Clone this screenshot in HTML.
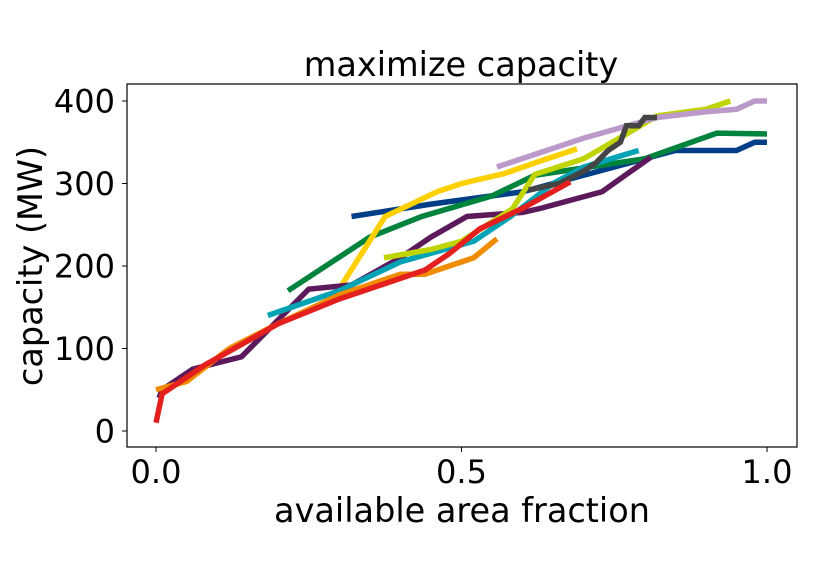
<!DOCTYPE html>
<html><head><meta charset="utf-8"><style>
body{margin:0;background:#fff;}
svg text{font-family:"DejaVu Sans","Liberation Sans",sans-serif;fill:#000;}
</style></head><body>
<svg id="chart" width="839" height="560" viewBox="0 0 839 560" xmlns="http://www.w3.org/2000/svg">
<rect x="0" y="0" width="839" height="560" fill="#fff"/>
<text x="461" y="76" font-size="33.5" text-anchor="middle">maximize capacity</text>
<g id="marks"></g>
<rect x="127" y="84" width="670" height="363" fill="none" stroke="#000" stroke-width="1.2"/>
<g id="axes"></g>
<text x="462" y="522" font-size="33.5" text-anchor="middle">available area fraction</text>
<text transform="translate(42,266) rotate(-90)" font-size="33.5" text-anchor="middle">capacity (MW)</text>
</svg>
<script>
const xTicks=[0,0.5,1];
const xTickLabels=["0.0","0.5","1.0"];
const yTicks=[0,100,200,300,400];
const yTickLabels=["0","100","200","300","400"];
const seriesNames=["navy","green","yellow","purple","teal","lime","lilac","gray","orange","red"];
const seriesColors=["#003f88","#00843d","#ffd000","#5c1a5c","#00a3b4","#bfd400","#bb99c8","#444444","#f08c00","#e3201e"];
const navyX=[0.32,0.45,0.6,0.7,0.8,0.85,0.95,0.98,1.0];
const navyY=[260,275,290,310,330,340,340,350,350];
const greenX=[0.216,0.35,0.435,0.55,0.62,0.8,0.918,1.0];
const greenY=[170,235,260,285,310,330,361,360];
const yellowX=[0.298,0.375,0.46,0.5,0.57,0.62,0.689];
const yellowY=[170,260,290,300,312,325,342];
const purpleX=[0.005,0.01,0.06,0.14,0.25,0.32,0.4,0.45,0.509,0.6,0.63,0.73,0.81];
const purpleY=[40,50,75,90,172,177,210,235,260,265,270,290,332];
const tealX=[0.183,0.3,0.4,0.52,0.58,0.65,0.7,0.79];
const tealY=[140,170,205,230,260,300,320,340];
const limeX=[0.373,0.45,0.5,0.583,0.62,0.7,0.77,0.82,0.9,0.94];
const limeY=[210,220,230,269,311,330,360,382,390,400];
const lilacX=[0.558,0.7,0.82,0.9,0.95,0.98,1.0];
const lilacY=[320,355,380,387,390,400,400];
const grayX=[0.61,0.66,0.7,0.72,0.74,0.76,0.77,0.79,0.8,0.82];
const grayY=[292,300,315,325,340,350,370,370,380,380];
const orangeX=[0.0,0.05,0.12,0.2,0.3,0.4,0.44,0.48,0.52,0.558];
const orangeY=[50,60,100,130,165,190,190,200,210,233];
const redX=[0.0,0.01,0.08,0.2,0.3,0.38,0.44,0.48,0.53,0.6,0.678];
const redY=[10,45,80,130,160,180,195,215,245,270,302];
const allX=[navyX,greenX,yellowX,purpleX,tealX,limeX,lilacX,grayX,orangeX,redX];
const allY=[navyY,greenY,yellowY,purpleY,tealY,limeY,lilacY,grayY,orangeY,redY];
const NS="http://www.w3.org/2000/svg";
function sx(v){return 156+v*611;}
function sy(v){return 431-v*0.825;}
const marks=document.getElementById('marks');
allX.forEach((xs,i)=>{
  const p=document.createElementNS(NS,'polyline');
  p.setAttribute('points',xs.map((x,j)=>sx(x)+','+sy(allY[i][j])).join(' '));
  p.setAttribute('fill','none');
  p.setAttribute('stroke',seriesColors[i]);
  p.setAttribute('stroke-width','5.5');
  
  
  marks.appendChild(p);
});
const axes=document.getElementById('axes');
xTicks.forEach((t,i)=>{
  const l=document.createElementNS(NS,'line');
  l.setAttribute('x1',sx(t));l.setAttribute('x2',sx(t));l.setAttribute('y1',447);l.setAttribute('y2',452);
  l.setAttribute('stroke','#000');
  
  
  axes.appendChild(l);
  const tx=document.createElementNS(NS,'text');
  tx.setAttribute('x',sx(t));tx.setAttribute('y',483);tx.setAttribute('font-size','32');tx.setAttribute('text-anchor','middle');
  tx.textContent=xTickLabels[i];
  
  
  axes.appendChild(tx);
});
yTicks.forEach((t,i)=>{
  const l=document.createElementNS(NS,'line');
  l.setAttribute('x1',122);l.setAttribute('x2',127);l.setAttribute('y1',sy(t));l.setAttribute('y2',sy(t));
  l.setAttribute('stroke','#000');
  
  
  axes.appendChild(l);
  const tx=document.createElementNS(NS,'text');
  tx.setAttribute('x',115);tx.setAttribute('y',sy(t)+11.5);tx.setAttribute('font-size','32');tx.setAttribute('text-anchor','end');
  tx.textContent=yTickLabels[i];
  
  
  axes.appendChild(tx);
});
</script>
</body></html>
